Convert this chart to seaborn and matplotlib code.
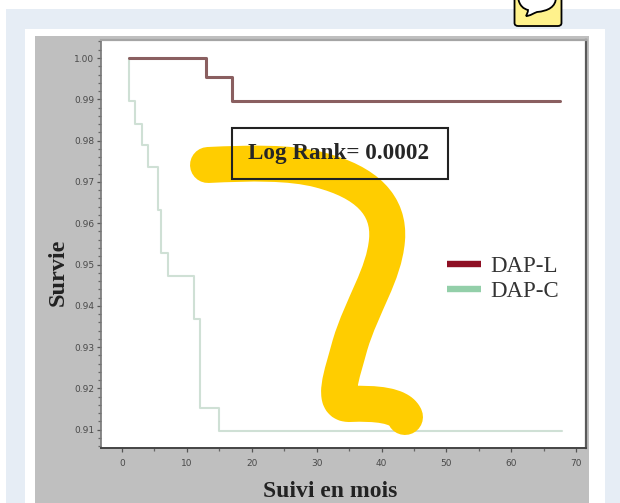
import matplotlib
matplotlib.use("Agg")
import matplotlib.pyplot as plt
import pandas as pd
import seaborn as sns
from matplotlib.lines import Line2D
from matplotlib.patches import FancyBboxPatch, PathPatch, Rectangle
from matplotlib.path import Path
from matplotlib.ticker import MultipleLocator

W, H = 620, 503

# Kaplan-Meier steps
dap_l_t = [1.0, 13.0, 17.0, 67.5]
dap_l_s = [1.0, 0.9954, 0.9895, 0.9895]
dap_c_t = [1.0, 1.1, 2.0, 3.1, 4.0, 5.5, 6.0, 7.1, 11.1, 12.0, 14.9, 67.8]
dap_c_s = [1.0, 0.9897, 0.984, 0.979, 0.9736, 0.9632, 0.9528, 0.9472, 0.9368, 0.9153, 0.9097, 0.9097]

x_ticks = [0, 10, 20, 30, 40, 50, 60, 70]
y_ticks = [1.00, 0.99, 0.98, 0.97, 0.96, 0.95, 0.94, 0.93, 0.92, 0.91]
y_labels = ["1.00", "0.99", "0.98", "0.97", "0.96", "0.95", "0.94", "0.93", "0.92", "0.91"]

groups = ["DAP-L", "DAP-C"]
colors = {"DAP-L": "#8a5f60", "DAP-C": "#cfe0d5"}
legend_colors = {"DAP-L": "#8e1024", "DAP-C": "#93cfa9"}
serif = "Liberation Serif"


def fx(px):
    return px / W


def fy(py):
    return 1 - py / H


def pts(pairs):
    return [(fx(a), fy(b)) for a, b in pairs]


df = pd.concat([
    pd.DataFrame({"t": dap_l_t, "s": dap_l_s, "groupe": groups[0]}),
    pd.DataFrame({"t": dap_c_t, "s": dap_c_s, "groupe": groups[1]}),
])

sns.set_theme(style="white")
fig = plt.figure(figsize=(6.2, 5.03), dpi=100, facecolor="white")

# page behind the scanned figure
for x0, y0, x1, y1, col in [
    (6, 9, 620, 503, "#e6edf5"),
    (25, 29, 605, 503, "white"),
    (35, 36, 589, 503, "#bfbfbf"),
]:
    fig.add_artist(Rectangle((fx(x0), fy(y1)), (x1 - x0) / W, (y1 - y0) / H,
                             transform=fig.transFigure, color=col, lw=0, zorder=-1))

ax = fig.add_axes([fx(101), fy(448), 485 / W, 408 / H], facecolor="white")
sns.lineplot(data=df[df["groupe"] == groups[1]], x="t", y="s", color=colors[groups[1]],
             drawstyle="steps-post", lw=1.5, errorbar=None, estimator=None, ax=ax, zorder=2)
sns.lineplot(data=df[df["groupe"] == groups[0]], x="t", y="s", color=colors[groups[0]],
             drawstyle="steps-post", lw=2.2, errorbar=None, estimator=None, ax=ax, zorder=3)

ax.set_xlim(-3.24, 71.5)
ax.set_ylim(0.90557, 1.00436)
ax.set_xticks(x_ticks)
ax.set_yticks(y_ticks)
ax.set_yticklabels(y_labels)
ax.xaxis.set_minor_locator(MultipleLocator(5))
ax.yaxis.set_minor_locator(MultipleLocator(0.002))
ax.tick_params(axis="both", which="major", direction="out", length=3, width=0.9, color="#555555",
               labelsize=6.5, labelcolor="#4a4a4a", pad=2, bottom=True, left=True)
ax.tick_params(axis="x", which="major", pad=5)
ax.tick_params(axis="both", which="minor", direction="out", length=2, width=0.9, color="#666666",
               bottom=True, left=True)

ax.spines["top"].set_color("#a5a5a5")
ax.spines["top"].set_linewidth(1.6)
ax.spines["left"].set_color("#777777")
ax.spines["left"].set_linewidth(1.2)
ax.spines["bottom"].set_color("#444444")
ax.spines["bottom"].set_linewidth(1.4)
ax.spines["right"].set_color("#5a5a5a")
ax.spines["right"].set_linewidth(1.6)

ax.set_xlabel("Suivi en mois", family=serif, weight="bold", fontsize=17, color="#222222")
ax.set_ylabel("Survie", family=serif, weight="bold", fontsize=17.5, color="#222222")
ax.xaxis.set_label_coords(0.472, -0.082)
ax.yaxis.set_label_coords(-0.066, 0.431)

handles = [Line2D([], [], color=legend_colors[g], lw=4.6, solid_capstyle="butt") for g in groups]
ax.legend(handles, groups, loc="upper left", bbox_to_anchor=(fx(447), fy(256)),
          bbox_transform=fig.transFigure, frameon=False, borderpad=0, borderaxespad=0,
          handlelength=1.5, handletextpad=0.4, labelspacing=0.18,
          prop={"family": serif, "size": 16.5}, labelcolor="#333333")

# yellow marker scribble, sits over the plot but under the box text
codes = [Path.MOVETO] + [Path.CURVE4] * 15
stroke = pts([
    (208, 165),
    (250, 163), (290, 162), (320, 170),
    (366, 182), (390, 205), (387, 240),
    (384, 275), (362, 305), (350, 345),
    (342, 375), (330, 405), (350, 404),
    (375, 403), (400, 405), (405, 417),
])
ax.add_patch(PathPatch(Path(stroke, codes), transform=fig.transFigure, fc="none", ec="#ffcd00",
                       lw=25.9, capstyle="round", joinstyle="round", clip_on=False, zorder=4))

ax.add_patch(Rectangle((fx(232), fy(179)), 216 / W, 51 / H, transform=fig.transFigure,
                       fc="none", ec="#222222", lw=1.5, clip_on=False, zorder=5))
ax.text(fx(338.5), fy(153), "Log Rank= 0.0002", transform=fig.transFigure, family=serif,
        weight="bold", fontsize=16.7, color="#262626", ha="center", va="center", zorder=6)

# speech-bubble badge cut by the top edge
fig.add_artist(FancyBboxPatch((fx(517), fy(24)), 42 / W, 40 / H, boxstyle="round,pad=0.004,rounding_size=0.006",
                              transform=fig.transFigure, fc="#fff28c", ec="black", lw=1.3))
bubble = pts([
    (518, -3),
    (519, 6), (524, 9), (528, 10),
    (528, 12), (527, 14), (526, 16),
    (530, 16), (534, 13), (537, 12),
    (548, 11), (556, 7), (556, -3),
    (518, -3),
])
bubble_codes = [Path.MOVETO] + [Path.CURVE4] * 12 + [Path.CLOSEPOLY]
fig.add_artist(PathPatch(Path(bubble, bubble_codes), transform=fig.transFigure, fc="white", ec="black", lw=1.3))

plt.savefig("out.png", dpi=100)
plt.close()
